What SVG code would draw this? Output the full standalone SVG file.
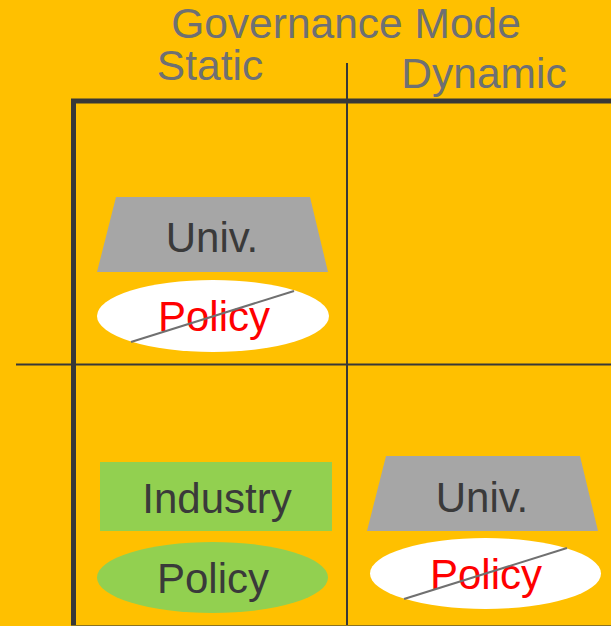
<svg xmlns="http://www.w3.org/2000/svg" width="611" height="626" viewBox="0 0 611 626">
<style>
.hdr{font-family:"Liberation Sans",Arial,sans-serif;font-size:42.5px;fill:#6e7073;text-anchor:middle}
.lbl{font-family:"Liberation Sans",Arial,sans-serif;font-size:42px;fill:#3a3a3a;text-anchor:middle}
.red{fill:#ff0000}
.trap{fill:#a6a6a6}
.green{fill:#92d050}
.white{fill:#ffffff}
.strike{stroke:#707070;stroke-width:2;fill:none}
.axis{stroke:#383838;fill:none}
</style>
<rect width="611" height="626" fill="#ffc000"/>
<g id="headers">
<text class="hdr" x="346" y="38">Governance Mode</text>
<text class="hdr" x="210" y="80">Static</text>
<text class="hdr" x="484" y="88">Dynamic</text>
</g>
<g id="axes">
<line class="axis" x1="347" y1="63" x2="347" y2="626" stroke-width="2"/>
<line class="axis" x1="16" y1="364.5" x2="611" y2="364.5" stroke-width="2"/>
<line class="axis" x1="71" y1="101" x2="611" y2="101" stroke-width="5"/>
<line class="axis" x1="73.5" y1="99" x2="73.5" y2="626" stroke-width="5"/>
<line x1="71" y1="625.5" x2="611" y2="625.5" stroke="#8c7320" stroke-width="1"/>
</g>
<g id="univ-static">
<polygon class="trap" points="116,197 310,197 328,272 97,272"/>
<text class="lbl" x="212" y="252">Univ.</text>
</g>
<g id="policy-static">
<ellipse class="white" cx="213" cy="316" rx="116" ry="36"/>
<text class="lbl red" x="214" y="331">Policy</text>
<line class="strike" x1="131" y1="342" x2="294" y2="291"/>
</g>
<g id="industry">
<rect class="green" x="100" y="462" width="232" height="69"/>
<text class="lbl" x="217" y="513">Industry</text>
</g>
<g id="policy-industry">
<ellipse class="green" cx="212.5" cy="577.5" rx="115.5" ry="35.5"/>
<text class="lbl" x="213" y="593">Policy</text>
</g>
<g id="univ-dynamic">
<polygon class="trap" points="386,456 580,456 598,531 367,531"/>
<text class="lbl" x="482" y="512">Univ.</text>
</g>
<g id="policy-dynamic">
<ellipse class="white" cx="485.5" cy="573.5" rx="115.5" ry="35.5"/>
<text class="lbl red" x="486" y="589">Policy</text>
<line class="strike" x1="404" y1="599" x2="567" y2="548"/>
</g>
</svg>
